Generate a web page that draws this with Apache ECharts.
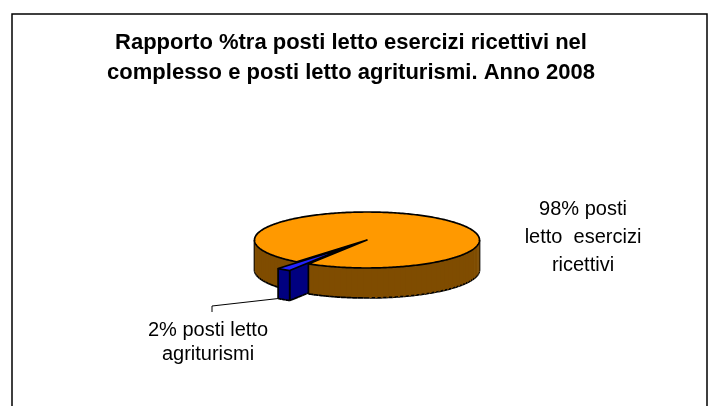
<!DOCTYPE html>
<html><head><meta charset="utf-8">
<script src="https://cdn.jsdelivr.net/npm/echarts@6/dist/echarts.min.js"></script>
<style>html,body{margin:0;padding:0;background:#fff}#c{width:713px;height:406px}</style>
</head><body><div id="c"></div>
<script>
// ---- data ----
const titleLines = ['Rapporto %tra posti letto esercizi ricettivi nel', 'complesso e posti letto agriturismi. Anno 2008'];
const categories = ['posti letto esercizi ricettivi', 'posti letto agriturismi'];
const labelWrapped = ['posti\nletto  esercizi\nricettivi', 'posti letto\nagriturismi'];
const percentValues = [98, 2];

// ---- layout / style ----
const PIE = {cx: 367, cy: 240, rx: 112.5, ry: 28, depth: 30, startAngle: 238.6, explode: [0, 0.29]};
const COLORS = [{top: '#FF9900', side: '#7F4C00'}, {top: '#2424FF', side: '#000080'}];
const LABELS = [
  {dx: 216, dy: -3, lineHeight: 28, leader: false},
  {dx: -159, dy: 102, lineHeight: 24, leader: true}
];

const rad = d => d * Math.PI / 180;
const total = percentValues.reduce((a, b) => a + b, 0);
const slices = [];
let acc = PIE.startAngle;
percentValues.forEach((v, i) => {
  const sweep = v / total * 360;
  const a0 = acc, a1 = acc + sweep; acc = a1;
  const am = rad((a0 + a1) / 2);
  const e = PIE.explode[i];
  slices.push({a0, a1, su: e * Math.cos(am), sv: e * Math.sin(am)});
});
function scr(u, v, z) { return [PIE.cx + u * PIE.rx, PIE.cy - v * PIE.ry + z]; }

const walls = [];
slices.forEach((s, i) => {
  const D = PIE.depth;
  const rimPt = (deg, z) => scr(s.su + Math.cos(rad(deg)), s.sv + Math.sin(rad(deg)), z);
  for (let k = Math.floor(s.a0 / 360) - 1; k <= Math.ceil(s.a1 / 360); k++) {
    const lo = Math.max(s.a0, 180 + 360 * k), hi = Math.min(s.a1, 360 + 360 * k);
    if (hi <= lo) continue;
    const n = Math.max(1, Math.ceil((hi - lo) / 3));
    for (let j = 0; j < n; j++) {
      const t0 = lo + (hi - lo) * j / n, t1 = lo + (hi - lo) * (j + 1) / n;
      const t1x = j < n - 1 ? Math.min(hi, t1 + 1.2) : t1;
      const poly = [];
      for (let q = 0; q <= 4; q++) poly.push(rimPt(t0 + (t1x - t0) * q / 4, 0));
      for (let q = 4; q >= 0; q--) poly.push(rimPt(t0 + (t1x - t0) * q / 4, D));
      const bottom = [];
      for (let q = 0; q <= 4; q++) bottom.push(rimPt(t0 + (t1 - t0) * q / 4, D));
      const lines = [bottom];
      if (j === 0) lines.push([rimPt(t0, 0), rimPt(t0, D)]);
      if (j === n - 1) lines.push([rimPt(t1, 0), rimPt(t1, D)]);
      walls.push({slice: i, poly, lines, key: s.sv + Math.sin(rad((t0 + t1) / 2))});
    }
  }
  if (s.a1 - s.a0 < 360) {
    [[s.a0, -90], [s.a1, 90]].forEach(([a, off]) => {
      if (Math.sin(rad(a + off)) >= 0) return;
      const n = 14, c = Math.cos(rad(a)), sn = Math.sin(rad(a));
      const P = (r, z) => scr(s.su + r * c, s.sv + r * sn, z);
      for (let j = 0; j < n; j++) {
        const r0 = j / n, r1 = (j + 1) / n;
        const r1x = Math.min(1, r1 + 0.03);
        const poly = [P(r0, 0), P(r1x, 0), P(r1x, D), P(r0, D)];
        const lines = [[P(r0, D), P(r1, D)]];
        if (j === n - 1) lines.push([P(1, 0), P(1, D)]);
        walls.push({slice: i, poly, lines, key: s.sv + (r0 + r1) / 2 * sn});
      }
    });
  }
});
walls.sort((a, b) => b.key - a.key);
walls.forEach((w, idx) => { w.z2 = idx + 1; });
const topOrder = slices.map((s, i) => i).sort((a, b) => slices[b].sv - slices[a].sv);
const topZ = {};
topOrder.forEach((i, k) => { topZ[i] = walls.length + 10 + k * 2; });

function renderItem(params, api) {
  const i = params.dataIndex, s = slices[i], D = PIE.depth;
  const children = [];
  walls.filter(w => w.slice === i).forEach(w => {
    children.push({type: 'polygon', z2: w.z2, shape: {points: w.poly},
      style: {fill: COLORS[i].side, stroke: null}});
    w.lines.forEach(l => children.push({type: 'polyline', z2: w.z2 + 0.5,
      shape: {points: l},
      style: {stroke: '#000', lineWidth: 1.7, fill: null}}));
  });
  const pts = [scr(s.su, s.sv, 0)];
  const n = Math.max(2, Math.ceil((s.a1 - s.a0)));
  for (let j = 0; j <= n; j++) {
    const d = s.a0 + (s.a1 - s.a0) * j / n;
    pts.push(scr(s.su + Math.cos(rad(d)), s.sv + Math.sin(rad(d)), 0));
  }
  children.push({type: 'polygon', z2: topZ[i], shape: {points: pts},
    style: {fill: COLORS[i].top, stroke: '#000', lineWidth: 1.7, lineJoin: 'round'}});
  const L = LABELS[i];
  const lx = PIE.cx + L.dx, ly = PIE.cy + L.dy;
  children.push({type: 'text', z2: 500, x: lx, y: ly,
    style: {text: api.value(0) + '% ' + labelWrapped[i], fontSize: 20, fontFamily: 'Liberation Sans, Arial, sans-serif',
      fill: '#000', align: 'center', verticalAlign: 'middle', lineHeight: L.lineHeight}});
  if (L.leader) {
    const start = scr(s.su + Math.cos(rad(s.a0)), s.sv + Math.sin(rad(s.a0)), D);
    children.push({type: 'polyline', z2: 499,
      shape: {points: [start, [lx + 4, ly - 36], [lx + 4, ly - 30]]},
      style: {stroke: '#000', lineWidth: 1, fill: null}});
  }
  return {type: 'group', children};
}

const chart = echarts.init(document.getElementById('c'));
chart.setOption({
  backgroundColor: '#fff',
  animation: false,
  title: {text: titleLines.join('\n'), left: 351, top: 28, textAlign: 'center', padding: 0,
    textStyle: {fontFamily: 'Liberation Sans, Arial, sans-serif', fontWeight: 'bold', fontSize: 22, lineHeight: 30, color: '#000'}},
  graphic: [{type: 'rect', shape: {x: 12, y: 14, width: 695, height: 420},
    style: {fill: 'none', stroke: '#000', lineWidth: 1.5}, silent: true}],
  series: [{
    type: 'custom',
    coordinateSystem: 'none',
    renderItem,
    data: percentValues.map((v, i) => ({name: categories[i], value: v}))
  }]
});
</script></body></html>
